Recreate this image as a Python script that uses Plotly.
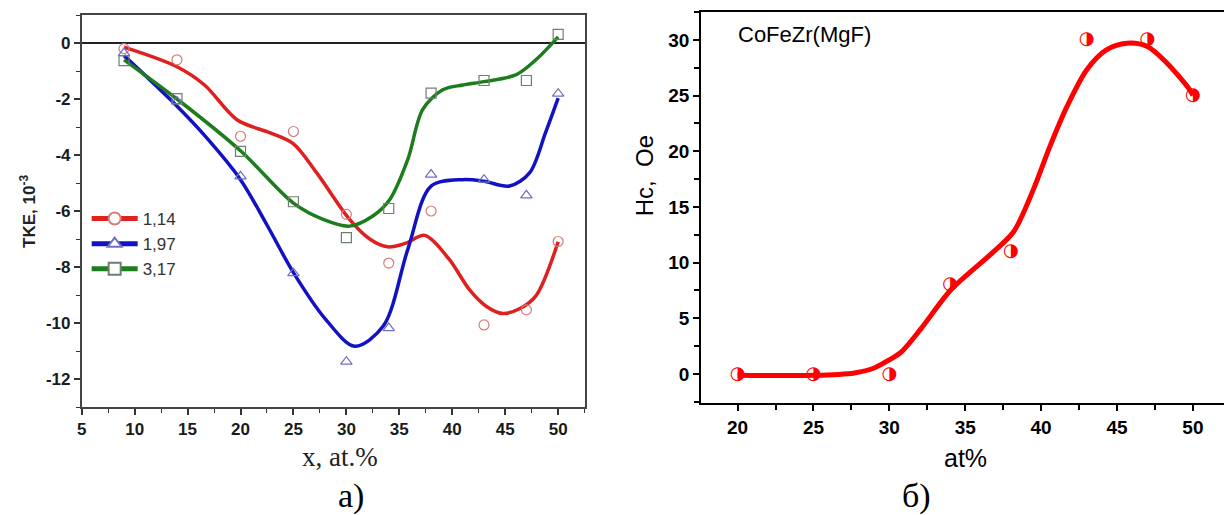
import plotly.graph_objects as go

# ---------------- data: left panel (TKE) ----------------
x_pts = [9, 14, 20, 25, 30, 34, 38, 43, 47, 50]
y_114 = [-0.2, -0.6, -3.33, -3.16, -6.12, -7.86, -6.0, -10.07, -9.53, -7.09]
y_197 = [-0.36, -2.09, -4.76, -8.22, -11.38, -10.18, -4.70, -4.88, -5.44, -1.81]
y_317 = [-0.63, -1.99, -3.87, -5.67, -6.95, -5.91, -1.79, -1.34, -1.34, 0.31]

# fitted curves
c114_x = [9, 14, 16.6, 19.7, 22.8, 25, 27.2, 30.3, 32.2, 33.9, 35.6, 37.4, 39.7, 41.6, 43.2, 44.75, 46.3, 47.9, 50]
c114_y = [-0.15, -0.85, -1.5, -2.75, -3.21, -3.6, -4.64, -6.3, -7.0, -7.28, -7.15, -6.87, -7.72, -8.8, -9.4, -9.66, -9.5, -9.03, -7.1]
c197_x = [9, 13.4, 16.6, 20, 22.5, 25, 28, 30.8, 33.5, 35.8, 38, 41, 43, 45.4, 47.3, 48.8, 50]
c197_y = [-0.45, -2.03, -3.3, -4.88, -6.5, -8.2, -9.85, -10.83, -10.1, -7.37, -5.11, -4.88, -4.94, -5.11, -4.64, -3.21, -1.97]
c317_x = [9, 14, 20, 25, 27.8, 30.3, 32.5, 34.1, 35.8, 37.2, 39.1, 41, 43, 46, 47.9, 50]
c317_y = [-0.6, -2.0, -3.85, -5.72, -6.3, -6.54, -6.18, -5.59, -4.16, -2.38, -1.67, -1.5, -1.38, -1.14, -0.6, 0.22]

series_names = ["1,14", "1,97", "3,17"]

left_xticks = [5, 10, 15, 20, 25, 30, 35, 40, 45, 50]
left_yticks = [-12, -10, -8, -6, -4, -2, 0]
left_ytext = ["-12", "-10", "-8", "-6", "-4", "-2", "0"]

# ---------------- data: right panel (Hc) ----------------
hc_x = [20, 25, 30, 34, 38, 43, 47, 50]
hc_y = [0, 0, 0, 8, 11, 30, 30, 25]
hc_cx = [20, 25, 27.7, 29, 30, 30.8, 32.1, 34.06, 36.8, 38.2, 39.5, 40.6, 41.7, 43.0, 44.3, 45.66, 47.0, 48.3, 49.8, 50]
hc_cy = [-0.1, -0.12, 0.1, 0.54, 1.28, 2.0, 4.1, 7.57, 10.9, 12.8, 16.6, 20.5, 24.0, 27.3, 29.1, 29.7, 29.4, 27.9, 25.5, 25.0]
right_xticks = [20, 25, 30, 35, 40, 45, 50]
right_yticks = [0, 5, 10, 15, 20, 25, 30]

W, H = 1224, 515
def px(x):
    return x / W
def py(y):
    return 1 - y / H

RED, BLUE, GREEN = "#e01f1f", "#1212c4", "#1c7d1c"
mk_red, mk_blue, mk_green = "#d97b7b", "#7070c0", "#6f7f6f"

fig = go.Figure()

for cx, cy, col in [(c114_x, c114_y, RED), (c197_x, c197_y, BLUE), (c317_x, c317_y, GREEN)]:
    fig.add_trace(go.Scatter(x=cx, y=cy, mode="lines", line=dict(color=col, width=3.5, shape="spline", smoothing=0.9),
                             showlegend=False, xaxis="x", yaxis="y", hoverinfo="skip"))

for yy, sym, mc in [(y_114, "circle-open", mk_red), (y_197, "triangle-up-open", mk_blue), (y_317, "square-open", mk_green)]:
    fig.add_trace(go.Scatter(x=x_pts, y=yy, mode="markers", marker=dict(symbol=sym, size=10, color=mc, line=dict(width=1.2)),
                             showlegend=False, xaxis="x", yaxis="y"))

# legend entries
for name, col, sym, mc in [(series_names[0], RED, "circle", mk_red), (series_names[1], BLUE, "triangle-up", mk_blue), (series_names[2], GREEN, "square", mk_green)]:
    fig.add_trace(go.Scatter(x=[None], y=[None], mode="lines+markers", name=name,
                             line=dict(color=col, width=3.5),
                             marker=dict(symbol=sym, size=9, color="white", line=dict(color=mc, width=1.2)),
                             xaxis="x", yaxis="y"))

# right panel
fig.add_trace(go.Scatter(x=hc_cx, y=hc_cy, mode="lines", line=dict(color="#ff0000", width=5, shape="spline", smoothing=0.85),
                         showlegend=False, xaxis="x2", yaxis="y2", hoverinfo="skip"))
fig.add_trace(go.Scatter(x=hc_x, y=hc_y, mode="text", text=["\u25d1"] * len(hc_x), textposition="middle center",
                         textfont=dict(family="DejaVu Sans", size=18, color="#ff0000"),
                         showlegend=False, xaxis="x2", yaxis="y2"))

tickfont_l = dict(family="Liberation Sans, Arial", size=17, color="#1a1a1a", weight="bold")
tickfont_r = dict(family="Liberation Sans, Arial", size=19, color="#000000", weight="bold")

fig.update_layout(
    width=W, height=H,
    margin=dict(l=0, r=0, t=0, b=0),
    paper_bgcolor="white", plot_bgcolor="white",
    showlegend=True,
    legend=dict(x=px(82), y=py(201), xanchor="left", yanchor="top", bgcolor="rgba(0,0,0,0)",
                font=dict(family="Liberation Sans, Arial", size=17, color="#333333"),
                itemwidth=46, tracegroupgap=0, itemsizing="constant"),
    xaxis=dict(domain=[px(77), px(582)], range=[5, 52.5], tickvals=left_xticks, ticks="outside", ticklen=6,
               tickwidth=1.5, tickcolor="#333", showline=True, linecolor="#444", linewidth=1.5, mirror=True,
               showgrid=False, zeroline=False, tickfont=tickfont_l, anchor="y",
               minor=dict(ticks="outside", ticklen=4, tickwidth=1.2, tickcolor="#333", dtick=2.5, tick0=7.5, showgrid=False)),
    yaxis=dict(domain=[py(407), py(15)], range=[-13, 1], tickvals=left_yticks, ticktext=left_ytext, ticks="outside",
               ticklen=6, tickwidth=1.5, tickcolor="#333", showline=True, linecolor="#444", linewidth=1.5, mirror=True,
               showgrid=False, zeroline=True, zerolinecolor="#222", zerolinewidth=1.5, tickfont=tickfont_l, anchor="x",
               minor=dict(ticks="outside", ticklen=4, tickwidth=1.2, tickcolor="#333", dtick=1, tick0=1, showgrid=False)),
    xaxis2=dict(domain=[px(699), 1.0], range=[17.6, 52.05], tickvals=right_xticks, ticks="outside", ticklen=6,
                tickwidth=1.5, tickcolor="#000", showline=True, linecolor="#000", linewidth=2, mirror=True,
                showgrid=False, zeroline=False, tickfont=tickfont_r, anchor="y2",
                minor=dict(ticks="outside", ticklen=5, tickwidth=1.5, tickcolor="#000", dtick=2.5, tick0=22.5, showgrid=False)),
    yaxis2=dict(domain=[py(403), py(12)], range=[-2.6, 32.5], tickvals=right_yticks, ticks="outside", ticklen=6,
                tickwidth=1.5, tickcolor="#000", showline=True, linecolor="#000", linewidth=2, mirror=False,
                showgrid=False, zeroline=False, tickfont=tickfont_r, anchor="x2",
                minor=dict(ticks="outside", ticklen=5, tickwidth=1.5, tickcolor="#000", dtick=2.5, tick0=2.5, showgrid=False)),
)

ann = [
    dict(text="TKE, 10<sup>-3</sup>", x=px(23), y=py(211), textangle=-90,
         font=dict(family="Liberation Sans, Arial", size=17, color="#222", weight="bold")),
    dict(text="x, at.%", x=px(336), y=py(457), font=dict(family="Liberation Serif, Times New Roman", size=27, color="#222")),
    dict(text="а)", x=px(347), y=py(496), font=dict(family="Liberation Serif, Times New Roman", size=34, color="#000")),
    dict(text="Hc,  Oe", x=px(643), y=py(176), textangle=-90,
         font=dict(family="Liberation Sans, Arial", size=24, color="#000")),
    dict(text="at%", x=px(964), y=py(458), font=dict(family="Liberation Sans, Arial", size=25, color="#000")),
    dict(text="б)", x=px(915), y=py(496), font=dict(family="Liberation Serif, Times New Roman", size=34, color="#000")),
    dict(text="CoFeZr(MgF)", x=px(734), y=py(35), xanchor="left",
         font=dict(family="Liberation Sans, Arial", size=22, color="#000")),
]
for a in ann:
    a.setdefault("xanchor", "center")
    a.update(xref="paper", yref="paper", showarrow=False, yanchor="middle")
    fig.add_annotation(**a)

fig.write_html("out.html")
